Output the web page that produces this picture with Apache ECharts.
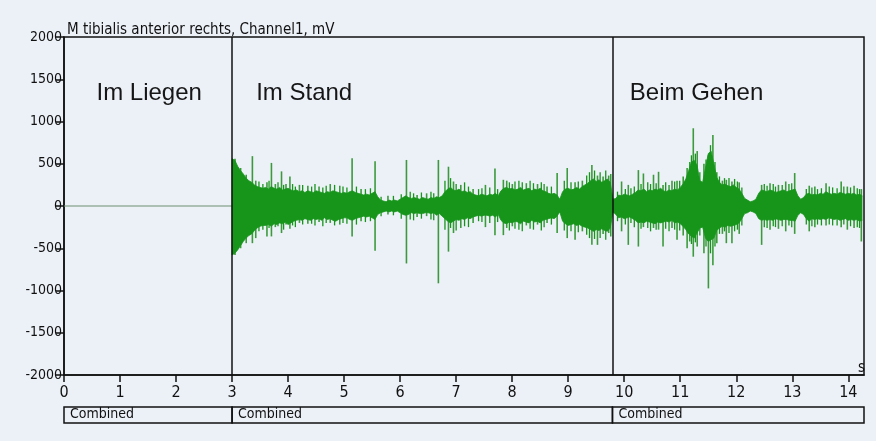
<!DOCTYPE html>
<html><head><meta charset="utf-8">
<script src="https://cdn.jsdelivr.net/npm/echarts@6/dist/echarts.min.js"></script>
<style>html,body{margin:0;padding:0;background:#ecf1f8;}#c{width:876px;height:441px;}</style>
</head><body><div id="c"></div>
<script>
// ---- data ----
const chartTitle = 'M tibialis anterior rechts, Channel1, mV';
const phaseNames = ['Im Liegen', 'Im Stand', 'Beim Gehen'];
const phaseBounds = [0, 3, 9.79, 14.28];   // seconds
const segmentLabel = 'Combined';
const xTicks = [0,1,2,3,4,5,6,7,8,9,10,11,12,13,14];
const yTicks = [-2000,-1500,-1000,-500,0,500,1000,1500,2000];

// resting (flat) part
const restT = [0, 3];
const restV = [0, 0];

// EMG envelope, sampled every 0.05 s from 3.00 s
const envStart = 3.0, envStep = 0.05;
const envUp = [
  560,540,470,420,380,330,300,280,250,230,220,210,220,200,230,210,200,220,190,200,
  210,190,180,190,170,180,160,180,170,160,180,170,160,150,170,160,180,170,160,150,
  160,150,170,180,160,150,140,130,140,130,150,170,110,70,60,50,70,60,70,60,
  80,100,120,100,90,100,90,80,100,90,80,100,90,110,100,120,170,200,220,190,
  180,200,170,180,160,170,140,130,120,140,130,120,140,130,150,120,180,210,220,200,
  210,190,200,220,190,200,210,180,200,190,210,180,170,150,140,150,130,80,170,200,
  210,190,200,220,200,230,250,270,300,320,290,310,280,300,320,280,80,90,130,120,
  140,130,120,140,160,190,180,200,170,190,180,200,190,210,180,170,190,180,200,190,
  220,260,320,420,520,540,480,300,280,450,620,650,500,340,280,250,260,240,230,250,
  220,200,150,90,70,50,60,80,150,190,180,170,190,180,160,170,180,190,170,180,
  190,200,120,80,100,140,150,130,140,130,150,140,170,150,140,150,140,160,150,140,
  150,140,150,130,140,120
];
const envDown = [
  -580,-560,-520,-470,-420,-380,-350,-330,-290,-260,-240,-230,-230,-220,-240,-210,-220,-200,-210,-190,
  -220,-200,-180,-170,-160,-170,-150,-160,-170,-150,-160,-150,-170,-140,-160,-150,-170,-180,-160,-150,
  -140,-140,-160,-170,-150,-140,-130,-120,-130,-120,-140,-160,-100,-80,-70,-60,-70,-60,-70,-60,
  -80,-100,-110,-100,-80,-90,-80,-90,-90,-80,-80,-90,-80,-110,-90,-120,-150,-180,-200,-180,
  -160,-170,-150,-160,-140,-150,-130,-120,-110,-120,-110,-110,-120,-110,-130,-100,-170,-200,-210,-190,
  -200,-180,-190,-210,-180,-190,-200,-170,-190,-180,-200,-170,-160,-150,-140,-150,-120,-70,-180,-210,
  -230,-220,-210,-230,-220,-240,-250,-260,-280,-300,-280,-290,-270,-290,-300,-260,-70,-100,-140,-130,
  -150,-140,-130,-150,-170,-200,-190,-200,-180,-190,-200,-210,-190,-200,-190,-180,-190,-170,-200,-190,
  -210,-240,-280,-330,-360,-380,-320,-260,-250,-380,-420,-400,-380,-290,-260,-240,-250,-230,-240,-230,
  -220,-200,-150,-90,-80,-60,-70,-90,-150,-170,-160,-170,-160,-170,-150,-160,-170,-160,-160,-170,
  -170,-180,-110,-80,-100,-150,-180,-150,-160,-150,-160,-150,-160,-140,-150,-160,-150,-170,-160,-150,
  -170,-160,-170,-160,-180,-170
];

// large individual spikes: time, positive peak, negative peak
const spikeT  = [3.05,3.15,3.25,3.36,3.42,3.62,3.70,3.77,3.88,3.96,4.03,4.20,4.35,4.55,4.75,4.92,5.14,5.30,5.55,5.78,
                 6.11,6.30,6.47,6.68,6.86,6.95,7.08,7.30,7.52,7.69,7.84,7.90,8.00,8.25,8.45,8.62,8.80,8.98,9.12,9.25,
                 9.42,9.52,9.62,9.72,9.95,10.07,10.25,10.34,10.52,10.61,10.69,10.85,10.94,11.05,11.12,11.23,11.30,11.42,11.50,11.58,
                 11.65,11.75,11.82,11.92,12.05,12.45,12.60,12.75,12.88,13.04,13.30,13.40,13.60,13.87,13.98,14.10,14.23];
const spikeHi = [560,450,370,590,300,280,510,260,410,260,350,250,240,230,260,240,565,200,530,120,
                 545,130,150,545,465,290,250,200,250,445,310,300,260,270,260,230,390,450,280,300,
                 485,360,350,360,290,250,425,385,370,405,250,300,300,350,450,920,650,500,600,840,
                 400,300,310,290,280,250,270,250,290,390,240,230,270,290,230,240,200];
const spikeLo = [-580,-500,-440,-440,-380,-360,-360,-250,-320,-220,-270,-200,-210,-190,-200,-220,-360,-180,-530,-100,
                 -680,-130,-120,-915,-540,-320,-260,-200,-250,-345,-345,-260,-240,-230,-220,-200,-320,-380,-400,-300,
                 -460,-460,-330,-320,-300,-460,-480,-250,-260,-280,-480,-260,-400,-350,-500,-600,-480,-560,-975,-700,
                 -440,-330,-440,-440,-330,-460,-280,-270,-300,-330,-300,-250,-230,-250,-280,-260,-420];

// smaller spikes along the band edge
const minorT  = [3.48,3.55,3.66,3.82,3.92,4.08,4.13,4.26,4.42,4.48,4.62,4.68,4.83,4.98,5.05,5.22,5.38,5.47,
                 5.66,5.88,6.02,6.18,6.24,6.38,6.55,6.60,
                 6.80,6.90,7.00,7.15,7.22,7.40,7.46,7.60,7.74,
                 7.95,8.05,8.12,8.18,8.32,8.38,8.52,8.57,8.70,
                 8.93,9.05,9.18,9.33,9.38,9.47,9.57,9.67,9.76,
                 9.88,10.02,10.12,10.18,10.30,10.42,10.47,10.57,10.74,10.80,10.90,10.99,
                 11.17,11.20,11.27,11.35,11.46,11.54,11.62,11.70,11.79,11.87,11.97,12.02,12.10,
                 12.50,12.55,12.66,12.70,12.82,12.94,12.99,
                 13.25,13.35,13.45,13.52,13.66,13.72,13.80,13.92,14.04,14.16,14.20];
const minorHi = [290,260,300,280,250,260,230,250,230,260,220,240,250,230,220,230,200,210,
                 110,120,140,170,150,160,170,150,
                 300,330,260,280,230,200,210,220,200,
                 280,290,300,280,300,270,280,260,230,
                 300,280,290,360,400,420,400,420,380,
                 170,200,210,230,260,280,260,270,280,250,290,300,
                 520,600,620,400,550,720,520,350,330,330,320,290,220,
                 260,240,260,230,250,260,270,
                 200,220,200,210,230,220,210,230,220,210,200];
const minorLo = [-300,-280,-260,-240,-280,-230,-250,-220,-210,-230,-240,-200,-230,-200,-210,-220,-190,-180,
                 -120,-110,-150,-160,-170,-150,-160,-170,
                 -280,-260,-290,-240,-250,-180,-190,-200,-190,
                 -290,-270,-280,-300,-270,-280,-290,-250,-220,
                 -290,-300,-310,-340,-380,-390,-380,-400,-360,
                 -180,-220,-200,-250,-270,-260,-300,-280,-270,-300,-280,-290,
                 -420,-450,-430,-350,-480,-560,-480,-330,-300,-320,-300,-280,-230,
                 -250,-260,-240,-250,-240,-230,-250,
                 -220,-240,-220,-230,-220,-230,-230,-220,-240,-250,-260];

// ---- build ----
const upData = [[restT[1], 0]], downData = [[restT[1], 0]];
envUp.forEach((v, i) => upData.push([+(envStart + i * envStep).toFixed(2), v]));
envDown.forEach((v, i) => downData.push([+(envStart + i * envStep).toFixed(2), v]));
const hiData = spikeT.map((t, i) => [t, spikeHi[i]]);
const loData = spikeT.map((t, i) => [t, spikeLo[i]]);
const mHiData = minorT.map((t, i) => [t, minorHi[i]]);
const mLoData = minorT.map((t, i) => [t, minorLo[i]]);

const narrow = '"Liberation Sans Narrow", "DejaVu Sans Condensed", "Arial Narrow", sans-serif';
const sans = '"Liberation Sans", Arial, sans-serif';
const band = '#17951b';
const spikeCol = '#3c9a3c';

const chart = echarts.init(document.getElementById('c'), null, {renderer: 'canvas'});
chart.setOption({
  animation: false,
  backgroundColor: '#ecf1f8',
  grid: {left: 64, right: 12, top: 37, bottom: 66, show: true, borderColor: '#111', borderWidth: 1.5, backgroundColor: 'transparent'},
  xAxis: {
    type: 'value', min: phaseBounds[0], max: phaseBounds[3], interval: 1,
    axisLine: {show: true, onZero: false, lineStyle: {color: '#111', width: 1.5}},
    axisTick: {show: true, length: 7, lineStyle: {color: '#111', width: 1.5}},
    axisLabel: {showMaxLabel: false, color: '#111', fontFamily: narrow, fontSize: 16, margin: 10,
      formatter: v => xTicks.includes(v) ? String(v) : ''},
    splitLine: {show: false}
  },
  yAxis: {
    type: 'value', min: yTicks[0], max: yTicks[yTicks.length - 1], interval: 500,
    axisLine: {show: true, onZero: false, lineStyle: {color: '#111', width: 1.5}},
    axisTick: {show: true, length: 8, lineStyle: {color: '#111', width: 1.5}},
    axisLabel: {color: '#111', fontFamily: narrow, fontSize: 14, margin: 2,
      formatter: v => yTicks.includes(v) ? String(v) : ''},
    splitLine: {show: false}
  },
  series: [
    {type: 'line', data: restT.map((t, i) => [t, restV[i]]), showSymbol: false, symbol: 'none',
     lineStyle: {color: '#6f8f70', width: 1.2}, z: 3},
    {type: 'line', data: upData, showSymbol: false, symbol: 'none', sampling: null,
     lineStyle: {color: band, width: 0.8}, areaStyle: {color: band, opacity: 1, origin: 0}, z: 3,
     markLine: {symbol: ['none', 'none'], silent: true, label: {show: false},
       lineStyle: {color: '#111', width: 1.5, type: 'solid'},
       data: [{xAxis: phaseBounds[1]}, {xAxis: phaseBounds[2]}]}},
    {type: 'line', data: downData, showSymbol: false, symbol: 'none',
     lineStyle: {color: band, width: 0.8}, areaStyle: {color: band, opacity: 1, origin: 0}, z: 3},
    {type: 'bar', data: hiData, barWidth: 1.6, stack: 'sp', itemStyle: {color: spikeCol}, z: 2},
    {type: 'bar', data: loData, barWidth: 1.6, stack: 'sp', itemStyle: {color: spikeCol}, z: 2},
    {type: 'bar', data: mHiData, barWidth: 1.3, stack: 'mn', barGap: '-100%', itemStyle: {color: band}, z: 2},
    {type: 'bar', data: mLoData, barWidth: 1.3, stack: 'mn', barGap: '-100%', itemStyle: {color: band}, z: 2}
  ]
});

// annotations and segment boxes, positioned through the axis scale
const px = t => chart.convertToPixel({xAxisIndex: 0}, t);
const py = v => chart.convertToPixel({yAxisIndex: 0}, v);
const g = [];
g.push({type: 'text', left: px(0) + 3, top: py(2000) - 14,
  style: {text: chartTitle, font: '15px ' + narrow, fill: '#111'}});
const nameX = [0.58, 3.43, 10.1];
phaseNames.forEach((n, i) => g.push({type: 'text', left: px(nameX[i]), top: py(1470),
  style: {text: n, font: '24px ' + sans, fill: '#161616'}}));
g.push({type: 'text', left: px(phaseBounds[3]) - 6, top: py(-2000) - 14,
  style: {text: 's', font: '15px ' + narrow, fill: '#111'}});
for (let i = 0; i < phaseBounds.length - 1; i++) {
  const x0 = px(phaseBounds[i]), x1 = px(phaseBounds[i + 1]);
  g.push({type: 'rect', shape: {x: x0, y: 407, width: x1 - x0, height: 16},
    style: {fill: 'transparent', stroke: '#111', lineWidth: 1.5}});
  g.push({type: 'text', left: x0 + 6, top: 407,
    style: {text: segmentLabel, font: '14px ' + narrow, fill: '#111'}});
}
chart.setOption({graphic: g});
</script></body></html>
